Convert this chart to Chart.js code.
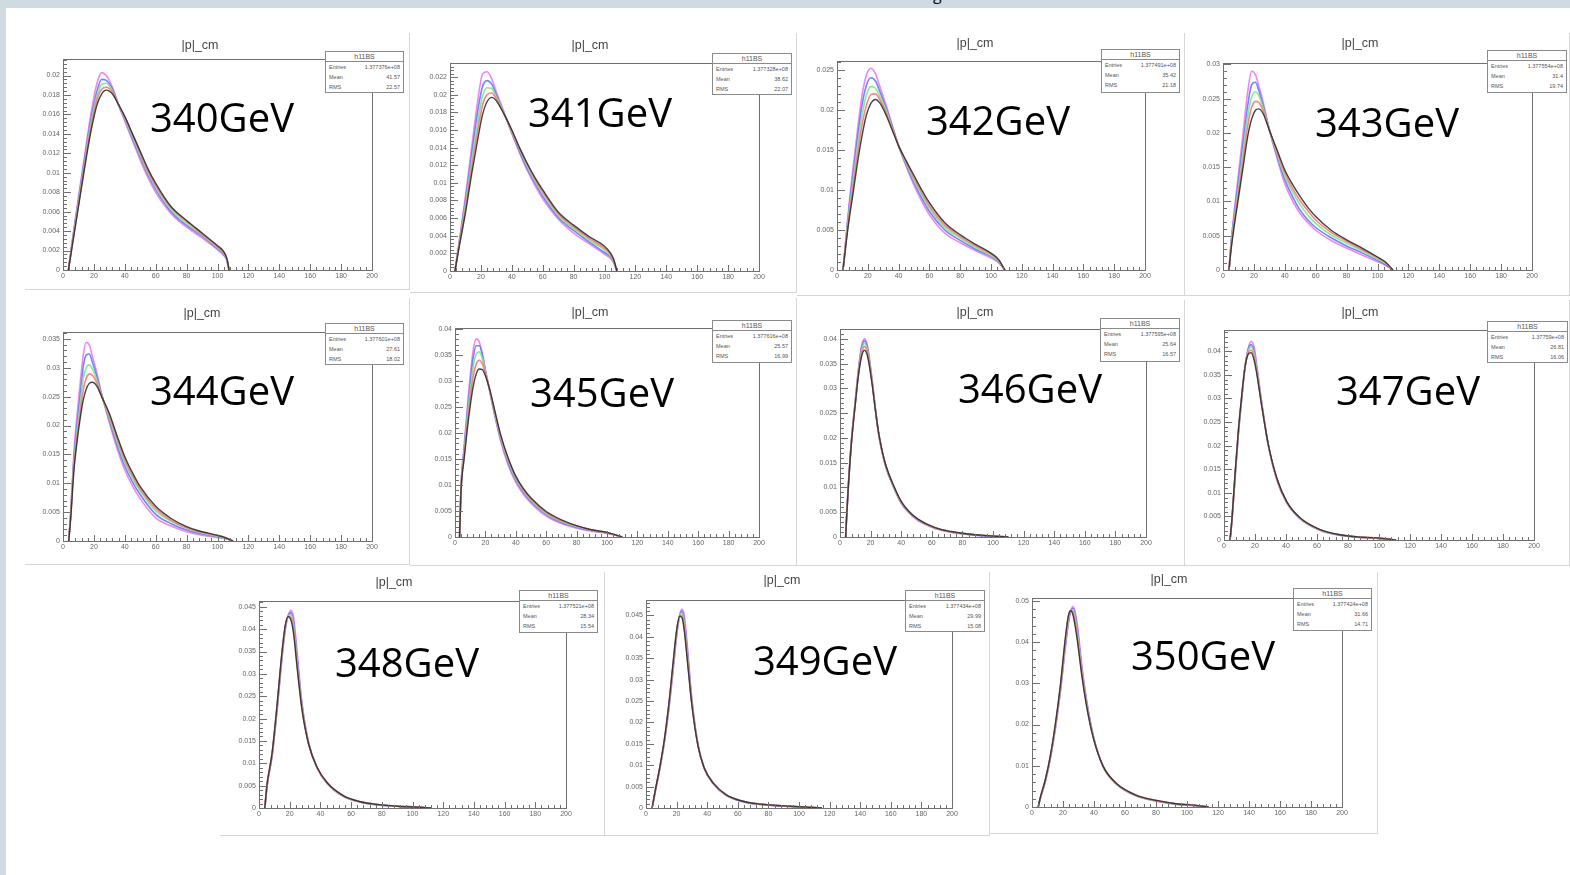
<!DOCTYPE html>
<html><head><meta charset="utf-8">
<script src="https://cdn.jsdelivr.net/npm/chart.js@4.4.0/dist/chart.umd.min.js"></script>
<style>
html,body{margin:0;padding:0;background:#fff;}
body{width:1570px;height:875px;position:relative;overflow:hidden;font-family:"Liberation Sans",Arial,sans-serif;}
#stripTop{position:absolute;left:0;top:0;width:1570px;height:8px;background:#cfdbe1;}
#stripLeft{position:absolute;left:0;top:0;width:6px;height:875px;background:#cfdbe1;}
#gfrag{position:absolute;left:932px;top:0;width:12px;height:8px;overflow:hidden;}
#gfrag span{position:absolute;left:1px;top:-14px;font-family:"Open Sans";font-size:16px;color:#111;line-height:1;}
.panel{position:absolute;box-sizing:border-box;border-right:1px solid #d6d6d6;border-bottom:1px solid #d6d6d6;}
canvas.cv{position:absolute;}
.title{position:absolute;font-size:12.5px;color:#444;transform:translate(-50%,-50%);white-space:nowrap;line-height:1;}
.gev{position:absolute;font-family:"Open Sans";font-size:40px;color:#000;transform:translate(-50%,-50%);white-space:nowrap;line-height:1;}
.stats{position:absolute;box-sizing:border-box;border:1px solid #8a8a8a;background:#fff;color:#555;}
.stats .hd{height:9px;line-height:9px;font-size:7px;text-align:center;border-bottom:1px solid #8a8a8a;}
.stats .row{height:10px;line-height:10px;font-size:5.5px;display:flex;justify-content:space-between;padding:0 3px;}
</style>
</head><body>
<div id="stripTop"></div><div id="stripLeft"></div>
<div id="gfrag"><span>g</span></div>
<script>
// ===== DATA =====
const energies = ["340GeV","341GeV","342GeV","343GeV","344GeV","345GeV","346GeV","347GeV","348GeV","349GeV","350GeV"];
const histTitle = "|p|_cm";
const statsName = "h11BS";
const statEntries = ["1.377376e+08","1.377328e+08","1.377491e+08","1.377554e+08","1.377601e+08","1.377616e+08","1.377595e+08","1.37759e+08","1.377521e+08","1.377434e+08","1.377424e+08"];
const statMean = ["41.57","38.62","35.42","31.4","27.61","25.57","25.64","26.81","28.34","29.99","31.66"];
const statRMS = ["22.57","22.07","21.18","19.74","18.02","16.99","16.57","16.06","15.54","15.08","14.71"];
const xTickLabels = [0,20,40,60,80,100,120,140,160,180,200];
const yAxisMax = [0.0217,0.0236,0.0261,0.0302,0.0362,0.0402,0.0420,0.0445,0.0463,0.0486,0.0507];
const yTickStep = [0.002,0.002,0.005,0.005,0.005,0.005,0.005,0.005,0.005,0.005,0.01];

// 340 GeV
const p340_x       = [3.5,6,10,14,18,22,25,28,32,36,40,45,50,55,60,70,80,90,100,104,106,107.5];
const p340_magenta = [0,0.0030,0.0075,0.0118,0.0160,0.0192,0.0203,0.0200,0.0188,0.0170,0.0153,0.0133,0.0113,0.0095,0.0080,0.0058,0.0044,0.0033,0.0021,0.0015,0.0010,0];
const p340_blue    = [0,0.0029,0.0072,0.0114,0.0154,0.0184,0.0196,0.0195,0.0186,0.0169,0.0155,0.0135,0.0116,0.0098,0.0083,0.0060,0.0046,0.0035,0.0022,0.0016,0.0011,0];
const p340_green   = [0,0.0027,0.0070,0.0110,0.0150,0.0179,0.0191,0.0192,0.0184,0.0170,0.0156,0.0137,0.0118,0.0100,0.0085,0.0062,0.0048,0.0036,0.0023,0.0017,0.0011,0];
const p340_red     = [0,0.0026,0.0067,0.0108,0.0146,0.0175,0.0186,0.0188,0.0183,0.0170,0.0157,0.0139,0.0120,0.0102,0.0087,0.0064,0.0050,0.0037,0.0024,0.0018,0.0012,0];
const p340_black   = [0,0.0025,0.0065,0.0105,0.0142,0.0170,0.0181,0.0185,0.0181,0.0170,0.0158,0.0140,0.0122,0.0104,0.0089,0.0065,0.0051,0.0038,0.0025,0.0019,0.0012,0];

// 341 GeV
const p341_x       = [3.2,6,10,14,18,21,24,27,30,35,40,45,50,55,60,70,80,90,100,104,106,108];
const p341_magenta = [0,0.0034,0.0085,0.0140,0.0194,0.0223,0.0226,0.0218,0.0203,0.0180,0.0156,0.0134,0.0114,0.0097,0.0082,0.0059,0.0043,0.0031,0.0019,0.0014,0.0009,0];
const p341_blue    = [0,0.0032,0.0080,0.0132,0.0182,0.0209,0.0216,0.0212,0.0200,0.0179,0.0157,0.0136,0.0116,0.0100,0.0085,0.0061,0.0046,0.0033,0.0021,0.0016,0.0010,0];
const p341_green   = [0,0.0031,0.0075,0.0124,0.0170,0.0198,0.0208,0.0207,0.0197,0.0179,0.0158,0.0138,0.0119,0.0102,0.0088,0.0063,0.0048,0.0035,0.0024,0.0017,0.0011,0];
const p341_red     = [0,0.0030,0.0070,0.0117,0.0160,0.0188,0.0200,0.0202,0.0195,0.0178,0.0159,0.0139,0.0121,0.0104,0.0090,0.0065,0.0050,0.0037,0.0026,0.0019,0.0012,0];
const p341_black   = [0,0.0028,0.0066,0.0110,0.0150,0.0177,0.0192,0.0197,0.0193,0.0178,0.0160,0.0140,0.0122,0.0106,0.0092,0.0067,0.0052,0.0039,0.0028,0.0020,0.0013,0];

// 342 GeV
const p342_x       = [3.9,6,8,10,13,16,19,22,25,28,32,36,40,45,50,55,60,70,80,90,100,105,109];
const p342_magenta = [0,0.0045,0.0085,0.0120,0.0170,0.0215,0.0243,0.0252,0.0245,0.0228,0.0205,0.0180,0.0155,0.0129,0.0106,0.0086,0.0069,0.0046,0.0034,0.0024,0.0015,0.0009,0];
const p342_blue    = [0,0.0042,0.0080,0.0112,0.0160,0.0203,0.0230,0.0240,0.0236,0.0222,0.0202,0.0179,0.0155,0.0131,0.0109,0.0090,0.0073,0.0050,0.0037,0.0026,0.0017,0.0010,0];
const p342_green   = [0,0.0040,0.0075,0.0104,0.0150,0.0190,0.0218,0.0229,0.0227,0.0216,0.0199,0.0177,0.0155,0.0133,0.0112,0.0094,0.0077,0.0053,0.0040,0.0028,0.0018,0.0011,0];
const p342_red     = [0,0.0037,0.0070,0.0097,0.0140,0.0178,0.0205,0.0219,0.0220,0.0212,0.0196,0.0176,0.0155,0.0135,0.0115,0.0097,0.0080,0.0056,0.0042,0.0030,0.0020,0.0012,0];
const p342_black   = [0,0.0035,0.0065,0.0090,0.0130,0.0165,0.0193,0.0208,0.0213,0.0208,0.0193,0.0174,0.0155,0.0136,0.0118,0.0100,0.0084,0.0059,0.0044,0.0032,0.0021,0.0013,0];

// 343 GeV
const p343_x       = [3.9,5,7,10,13,16,18.5,21,23,26,30,35,40,45,50,55,60,70,80,90,100,105,110];
const p343_magenta = [0,0.0035,0.0080,0.0140,0.0200,0.0260,0.0290,0.0285,0.0270,0.0245,0.0205,0.0163,0.0126,0.0101,0.0082,0.0069,0.0058,0.0043,0.0032,0.0022,0.0012,0.0007,0];
const p343_blue    = [0,0.0032,0.0075,0.0130,0.0185,0.0240,0.0270,0.0274,0.0263,0.0240,0.0205,0.0166,0.0132,0.0107,0.0087,0.0073,0.0062,0.0047,0.0035,0.0025,0.0014,0.0008,0];
const p343_green   = [0,0.0030,0.0070,0.0120,0.0172,0.0225,0.0252,0.0260,0.0255,0.0236,0.0205,0.0169,0.0137,0.0114,0.0095,0.0080,0.0068,0.0051,0.0039,0.0028,0.0016,0.0010,0];
const p343_red     = [0,0.0027,0.0065,0.0112,0.0160,0.0210,0.0237,0.0246,0.0245,0.0232,0.0204,0.0172,0.0142,0.0119,0.0101,0.0086,0.0073,0.0055,0.0042,0.0030,0.0018,0.0011,0];
const p343_black   = [0,0.0025,0.0060,0.0105,0.0150,0.0195,0.0220,0.0233,0.0235,0.0228,0.0204,0.0175,0.0146,0.0125,0.0107,0.0091,0.0078,0.0058,0.0044,0.0032,0.0019,0.0012,0];

// 344 GeV
const p344_x       = [3.7,5,7,9,11,13,15,17,19,22,25,30,35,40,45,50,60,70,80,90,100,105,110];
const p344_magenta = [0,0.0050,0.0150,0.0215,0.0270,0.0320,0.0344,0.0340,0.0320,0.0290,0.0255,0.0205,0.0160,0.0123,0.0095,0.0073,0.0040,0.0026,0.0016,0.0010,0.0006,0.0004,0];
const p344_blue    = [0,0.0047,0.0140,0.0200,0.0250,0.0300,0.0322,0.0324,0.0310,0.0284,0.0254,0.0209,0.0166,0.0130,0.0102,0.0080,0.0046,0.0030,0.0019,0.0012,0.0007,0.0005,0];
const p344_green   = [0,0.0045,0.0132,0.0188,0.0233,0.0280,0.0300,0.0305,0.0298,0.0278,0.0252,0.0213,0.0172,0.0136,0.0108,0.0086,0.0052,0.0034,0.0022,0.0014,0.0008,0.0005,0];
const p344_red     = [0,0.0042,0.0126,0.0178,0.0220,0.0260,0.0282,0.0289,0.0287,0.0273,0.0251,0.0217,0.0177,0.0141,0.0113,0.0090,0.0056,0.0036,0.0023,0.0015,0.0009,0.0006,0];
const p344_black   = [0,0.0040,0.0120,0.0170,0.0210,0.0243,0.0263,0.0273,0.0275,0.0268,0.0250,0.0221,0.0182,0.0146,0.0118,0.0094,0.0060,0.0039,0.0025,0.0016,0.0010,0.0006,0];

// 345 GeV
const p345_x       = [3,4,6,8,10,12,14,16,18,20,23,26,30,35,40,45,50,60,70,80,90,100,110];
const p345_magenta = [0,0.0100,0.0175,0.0245,0.0310,0.0360,0.0381,0.0375,0.0352,0.0322,0.0278,0.0235,0.0185,0.0138,0.0105,0.0082,0.0065,0.0040,0.0026,0.0017,0.0011,0.0007,0];
const p345_blue    = [0,0.0097,0.0168,0.0235,0.0295,0.0345,0.0368,0.0368,0.0350,0.0320,0.0279,0.0238,0.0189,0.0142,0.0109,0.0086,0.0068,0.0043,0.0028,0.0019,0.0012,0.0008,0];
const p345_green   = [0,0.0095,0.0162,0.0225,0.0280,0.0328,0.0352,0.0356,0.0343,0.0318,0.0280,0.0240,0.0192,0.0146,0.0112,0.0089,0.0071,0.0045,0.0030,0.0020,0.0013,0.0008,0];
const p345_red     = [0,0.0092,0.0156,0.0215,0.0266,0.0310,0.0333,0.0340,0.0333,0.0315,0.0281,0.0243,0.0195,0.0149,0.0115,0.0091,0.0073,0.0047,0.0031,0.0021,0.0013,0.0008,0];
const p345_black   = [0,0.0090,0.0150,0.0205,0.0252,0.0290,0.0314,0.0323,0.0322,0.0310,0.0282,0.0245,0.0197,0.0152,0.0117,0.0093,0.0075,0.0049,0.0033,0.0022,0.0014,0.0009,0];

// 346 GeV
const p346_x       = [3.7,4.3,5.4,7.6,9.8,12,14,16,18,20.7,23,25,29.3,35.9,40.2,45,51,62,72.8,83.7,94.6,110];
const p346_magenta = [0,0.0040,0.0102,0.0200,0.0270,0.0338,0.0385,0.0400,0.0385,0.0325,0.0262,0.0213,0.0148,0.0094,0.0067,0.0049,0.0033,0.0017,0.0009,0.0005,0.0002,0];
const p346_blue    = [0,0.0040,0.0101,0.0198,0.0268,0.0335,0.0380,0.0396,0.0381,0.0322,0.0262,0.0214,0.0149,0.0095,0.0068,0.0050,0.0034,0.0018,0.0010,0.0005,0.0002,0];
const p346_green   = [0,0.0039,0.0100,0.0197,0.0266,0.0331,0.0374,0.0391,0.0376,0.0320,0.0261,0.0214,0.0150,0.0096,0.0069,0.0051,0.0035,0.0018,0.0010,0.0006,0.0003,0];
const p346_red     = [0,0.0039,0.0100,0.0196,0.0264,0.0328,0.0369,0.0385,0.0371,0.0318,0.0261,0.0215,0.0151,0.0097,0.0070,0.0051,0.0035,0.0019,0.0010,0.0006,0.0003,0];
const p346_black   = [0,0.0038,0.0099,0.0195,0.0262,0.0325,0.0363,0.0377,0.0365,0.0315,0.0260,0.0215,0.0152,0.0098,0.0071,0.0052,0.0036,0.0019,0.0011,0.0006,0.0003,0];

// 347 GeV
const p347_x       = [3.9,5,7.1,9.2,11.4,13.5,15.5,17.5,19.5,21,24.3,28.6,34,40.4,49,62,74.8,87.7,100.6,111];
const p347_magenta = [0,0.0036,0.0130,0.0220,0.0298,0.0365,0.0405,0.0421,0.0408,0.0375,0.0292,0.0200,0.0128,0.0079,0.0045,0.0020,0.0010,0.0005,0.0003,0];
const p347_blue    = [0,0.0037,0.0132,0.0223,0.0300,0.0365,0.0402,0.0414,0.0399,0.0368,0.0290,0.0201,0.0129,0.0080,0.0046,0.0021,0.0010,0.0006,0.0003,0];
const p347_green   = [0,0.0038,0.0134,0.0225,0.0302,0.0365,0.0399,0.0409,0.0393,0.0364,0.0288,0.0201,0.0130,0.0081,0.0046,0.0021,0.0011,0.0006,0.0004,0];
const p347_red     = [0,0.0038,0.0136,0.0227,0.0303,0.0365,0.0396,0.0402,0.0386,0.0359,0.0287,0.0202,0.0131,0.0081,0.0047,0.0022,0.0011,0.0006,0.0004,0];
const p347_black   = [0,0.0039,0.0138,0.0229,0.0305,0.0365,0.0393,0.0397,0.0380,0.0355,0.0285,0.0202,0.0132,0.0082,0.0047,0.0022,0.0011,0.0006,0.0004,0];

// 348 GeV
const p348_x       = [3.8,5.2,8.5,11.7,15,17.2,19,21,22.6,24.8,28,32.4,37.8,44.3,55.2,66,77,90,103,112];
const p348_magenta = [0,0.0048,0.0115,0.0215,0.0335,0.0400,0.0430,0.0442,0.0425,0.0350,0.0235,0.0145,0.0090,0.0055,0.0025,0.0013,0.0007,0.0004,0.0002,0];
const p348_blue    = [0,0.0049,0.0117,0.0219,0.0340,0.0404,0.0430,0.0437,0.0413,0.0338,0.0231,0.0144,0.0090,0.0056,0.0026,0.0013,0.0007,0.0004,0.0002,0];
const p348_green   = [0,0.0050,0.0119,0.0222,0.0344,0.0406,0.0430,0.0432,0.0404,0.0328,0.0227,0.0143,0.0091,0.0056,0.0026,0.0014,0.0008,0.0004,0.0002,0];
const p348_red     = [0,0.0051,0.0121,0.0225,0.0347,0.0408,0.0429,0.0425,0.0396,0.0322,0.0224,0.0142,0.0091,0.0057,0.0027,0.0014,0.0008,0.0004,0.0002,0];
const p348_black   = [0,0.0052,0.0122,0.0228,0.0350,0.0410,0.0428,0.0418,0.0388,0.0315,0.0220,0.0142,0.0091,0.0057,0.0027,0.0014,0.0008,0.0004,0.0002,0];

// 349 GeV
const p349_x       = [4,6,9,12,15,18,20,22,23.5,25,27,30,34,38,44,52,62,75,90,105,115];
const p349_magenta = [0,0.0037,0.0090,0.0152,0.0232,0.0330,0.0400,0.0450,0.0465,0.0450,0.0380,0.0255,0.0148,0.0093,0.0056,0.0030,0.0016,0.0008,0.0004,0.0002,0];
const p349_blue    = [0,0.0038,0.0092,0.0155,0.0237,0.0337,0.0405,0.0450,0.0460,0.0440,0.0368,0.0250,0.0147,0.0093,0.0057,0.0031,0.0016,0.0008,0.0004,0.0002,0];
const p349_green   = [0,0.0039,0.0093,0.0157,0.0240,0.0342,0.0409,0.0450,0.0455,0.0432,0.0358,0.0246,0.0146,0.0094,0.0057,0.0031,0.0017,0.0009,0.0005,0.0002,0];
const p349_red     = [0,0.0039,0.0094,0.0158,0.0243,0.0346,0.0412,0.0449,0.0450,0.0424,0.0352,0.0243,0.0146,0.0094,0.0058,0.0032,0.0017,0.0009,0.0005,0.0002,0];
const p349_black   = [0,0.0040,0.0095,0.0160,0.0245,0.0350,0.0415,0.0448,0.0445,0.0415,0.0345,0.0240,0.0145,0.0094,0.0058,0.0032,0.0017,0.0009,0.0005,0.0002,0];

// 350 GeV
const p350_x       = [4,5.5,8.7,11.9,15.1,18.3,21.5,23.5,25,26.5,28,29.4,32.1,35.3,39.6,46,54.5,67,80,92.8,105.5,114];
const p350_magenta = [0,0.0022,0.0063,0.0118,0.0190,0.0278,0.0385,0.0445,0.0475,0.0486,0.0470,0.0438,0.0345,0.0258,0.0172,0.0097,0.0055,0.0027,0.0014,0.0007,0.0003,0];
const p350_blue    = [0,0.0023,0.0064,0.0120,0.0193,0.0283,0.0392,0.0450,0.0476,0.0482,0.0462,0.0428,0.0338,0.0254,0.0171,0.0097,0.0056,0.0028,0.0015,0.0007,0.0003,0];
const p350_green   = [0,0.0024,0.0066,0.0122,0.0196,0.0287,0.0399,0.0456,0.0477,0.0478,0.0454,0.0418,0.0332,0.0250,0.0169,0.0098,0.0056,0.0028,0.0015,0.0008,0.0004,0];
const p350_red     = [0,0.0024,0.0067,0.0124,0.0199,0.0291,0.0404,0.0461,0.0477,0.0472,0.0445,0.0409,0.0326,0.0247,0.0168,0.0098,0.0057,0.0029,0.0016,0.0008,0.0004,0];
const p350_black   = [0,0.0025,0.0068,0.0126,0.0202,0.0295,0.0410,0.0465,0.0476,0.0465,0.0435,0.0400,0.0320,0.0243,0.0167,0.0098,0.0057,0.0029,0.0016,0.0008,0.0004,0];

const panelData = [
  [p340_x,p340_magenta,p340_blue,p340_green,p340_red,p340_black],
  [p341_x,p341_magenta,p341_blue,p341_green,p341_red,p341_black],
  [p342_x,p342_magenta,p342_blue,p342_green,p342_red,p342_black],
  [p343_x,p343_magenta,p343_blue,p343_green,p343_red,p343_black],
  [p344_x,p344_magenta,p344_blue,p344_green,p344_red,p344_black],
  [p345_x,p345_magenta,p345_blue,p345_green,p345_red,p345_black],
  [p346_x,p346_magenta,p346_blue,p346_green,p346_red,p346_black],
  [p347_x,p347_magenta,p347_blue,p347_green,p347_red,p347_black],
  [p348_x,p348_magenta,p348_blue,p348_green,p348_red,p348_black],
  [p349_x,p349_magenta,p349_blue,p349_green,p349_red,p349_black],
  [p350_x,p350_magenta,p350_blue,p350_green,p350_red,p350_black]
];

// ===== LAYOUT / STYLE =====
const seriesColors = ["rgba(240,120,240,0.9)","rgba(90,125,250,0.9)","rgba(140,225,140,0.95)","rgba(245,120,120,0.9)","rgba(45,45,45,0.9)"];
const layout = [
  {box:[25,33,410,290],  frame:[63,59,372,270],   title:[200,45],  gev:[222,117],  stats:[325,51,404,93]},
  {box:[410,33,797,293], frame:[450,63,759,271],  title:[590,45],  gev:[600,112],  stats:[712,53,792,95]},
  {box:[797,33,1185,296],frame:[837,61,1145,270], title:[975,43],  gev:[998,120],  stats:[1101,49,1180,93]},
  {box:[1185,33,1570,296],frame:[1223,63,1532,270],title:[1360,43],gev:[1387,122], stats:[1487,50,1567,93]},
  {box:[25,298,410,565], frame:[63,332,372,541],  title:[202,313], gev:[222,390],  stats:[325,323,404,365]},
  {box:[410,298,797,566],frame:[455,328,759,537], title:[590,312], gev:[602,392],  stats:[712,320,792,363]},
  {box:[797,300,1185,566],frame:[840,329,1146,537],title:[975,312],gev:[1030,388], stats:[1100,318,1180,362]},
  {box:[1185,300,1570,566],frame:[1224,330,1534,540],title:[1360,312],gev:[1408,390],stats:[1487,321,1568,363]},
  {box:[220,572,605,836],frame:[259,601,566,808], title:[394,582], gev:[407,662],  stats:[519,590,598,633]},
  {box:[605,572,990,836],frame:[646,600,952,808], title:[782,580], gev:[825,660],  stats:[905,590,985,632]},
  {box:[990,572,1378,834],frame:[1032,598,1342,807],title:[1169,579],gev:[1203,655],stats:[1293,588,1372,631]}
];

const Y_AXIS_W = 30, X_AXIS_H = 14;

const framePlugin = {
  id:'rootFrame',
  afterDatasetsDraw(chart){
    const {ctx, chartArea:a, scales} = chart;
    const xs = scales.x, ys = scales.y;
    const step = chart.options.plugins.rootFrame.yStep;
    ctx.save();
    ctx.strokeStyle = '#707070'; ctx.lineWidth = 1;
    ctx.strokeRect(Math.round(a.left)+0.5, Math.round(a.top)+0.5, Math.round(a.right-a.left), Math.round(a.bottom-a.top));
    ctx.beginPath();
    for (let k=0; k<=50; k++){
      const v = k*4;
      const px = Math.round(xs.getPixelForValue(v))+0.5;
      const len = (k%5===0) ? 6 : 3;
      ctx.moveTo(px, a.bottom); ctx.lineTo(px, a.bottom-len);
    }
    const minor = step/5;
    for (let k=0; k*minor <= ys.max+1e-12; k++){
      const py = Math.round(ys.getPixelForValue(k*minor))+0.5;
      const len = (k%5===0) ? 8 : 4;
      ctx.moveTo(a.left, py); ctx.lineTo(a.left+len, py);
    }
    ctx.stroke();
    ctx.restore();
  }
};

function fmt(v){ return String(+(+v).toFixed(4)); }

layout.forEach((L,i)=>{
  const [bl,bt,br,bb] = L.box;
  const [fl,ft,fr,fb] = L.frame;
  const w = br-bl, h = bb-bt;
  const pd = document.createElement('div');
  pd.className='panel';
  pd.style.left=bl+'px'; pd.style.top=bt+'px'; pd.style.width=w+'px'; pd.style.height=h+'px';
  document.body.appendChild(pd);

  const cv = document.createElement('canvas');
  cv.className='cv';
  cv.width=w; cv.height=h;
  cv.style.left=bl+'px'; cv.style.top=bt+'px'; cv.style.width=w+'px'; cv.style.height=h+'px';
  document.body.appendChild(cv);

  const d = panelData[i];
  const xv = d[0];
  const datasets = [1,2,3,4,5].map(si=>({
    data: xv.map((x,j)=>({x:x, y:d[si][j]})),
    borderColor: seriesColors[si-1],
    borderWidth: si===5 ? 1.4 : 1.6,
    pointRadius: 0,
    fill: false,
    cubicInterpolationMode: 'monotone',
    order: 5-si
  }));
  const ymax = yAxisMax[i], ystep = yTickStep[i];

  new Chart(cv, {
    type:'line',
    data:{datasets},
    options:{
      responsive:false, animation:false, devicePixelRatio:1,
      layout:{padding:{left: fl-bl-Y_AXIS_W, top: ft-bt, right: br-fr, bottom: bb-fb-X_AXIS_H}},
      plugins:{legend:{display:false}, tooltip:{enabled:false}, rootFrame:{yStep:ystep}},
      scales:{
        x:{type:'linear', min:0, max:200,
           afterBuildTicks(s){ s.ticks = xTickLabels.map(v=>({value:v})); },
           ticks:{font:{size:7, family:'Liberation Sans'}, color:'#666', padding:2, maxRotation:0, autoSkip:false, callback:v=>String(v)},
           grid:{display:false, drawTicks:false}, border:{display:false},
           afterFit(s){ s.height = X_AXIS_H; }},
        y:{type:'linear', min:0, max:ymax,
           afterBuildTicks(s){ const t=[]; for(let k=0; k*ystep<=ymax+1e-12; k++) t.push({value:+(k*ystep).toFixed(6)}); s.ticks=t; },
           ticks:{font:{size:7, family:'Liberation Sans'}, color:'#666', padding:3, autoSkip:false, callback:v=>fmt(v)},
           grid:{display:false, drawTicks:false}, border:{display:false},
           afterFit(s){ s.width = Y_AXIS_W; }}
      }
    },
    plugins:[framePlugin]
  });

  const t = document.createElement('div');
  t.className='title'; t.textContent=histTitle;
  t.style.left=L.title[0]+'px'; t.style.top=L.title[1]+'px';
  document.body.appendChild(t);

  const s = document.createElement('div');
  s.className='stats';
  const [sl,st,sr,sb]=L.stats;
  s.style.left=sl+'px'; s.style.top=st+'px'; s.style.width=(sr-sl)+'px'; s.style.height=(sb-st)+'px';
  s.innerHTML = '<div class="hd">'+statsName+'</div>'+
    '<div class="row"><span>Entries</span><span>'+statEntries[i]+'</span></div>'+
    '<div class="row"><span>Mean</span><span>'+statMean[i]+'</span></div>'+
    '<div class="row"><span>RMS</span><span>'+statRMS[i]+'</span></div>';
  document.body.appendChild(s);

  const g = document.createElement('div');
  g.className='gev'; g.textContent=energies[i];
  g.style.left=L.gev[0]+'px'; g.style.top=L.gev[1]+'px';
  document.body.appendChild(g);
});
</script>
</body></html>
